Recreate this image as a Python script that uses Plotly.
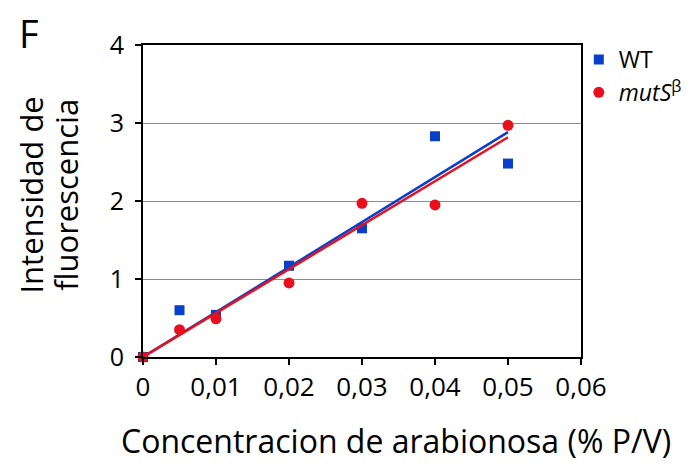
import numpy as np
import plotly.graph_objects as go

# Arabinose concentration (% w/v)
conc = [0, 0.005, 0.01, 0.02, 0.03, 0.04, 0.05]
# Fluorescence intensity
wt = [0, 0.60, 0.54, 1.17, 1.65, 2.83, 2.48]
muts = [0, 0.35, 0.49, 0.95, 1.97, 1.95, 2.97]

x_ticks = [0, 0.01, 0.02, 0.03, 0.04, 0.05, 0.06]
x_labels = ["0", "0,01", "0,02", "0,03", "0,04", "0,05", "0,06"]
y_ticks = [0, 1, 2, 3, 4]

BLUE = "#0a3fcc"
RED = "#e8101c"
FONT = "Open Sans"

W, H = 699, 466
ML, MR, MT, MB = 143, 108, 45, 109
PW, PH = W - ML - MR, H - MT - MB


def px_x(p):
    return (p - ML) / PW


def px_y(p):
    return 1 - (p - MT) / PH


def fit_origin(x, y):
    x = np.asarray(x, float)
    y = np.asarray(y, float)
    return float((x * y).sum() / (x * x).sum())


xs_fit = np.array([0, max(conc)])
k_wt = fit_origin(conc, wt)
k_mu = fit_origin(conc, muts)

fig = go.Figure()
fig.add_trace(go.Scatter(x=conc, y=wt, mode="markers", name="WT",
                         marker=dict(symbol="square", size=10, color=BLUE),
                         cliponaxis=False))
fig.add_trace(go.Scatter(x=xs_fit, y=k_wt * xs_fit, mode="lines", showlegend=False,
                         line=dict(color=BLUE, width=2.5)))
fig.add_trace(go.Scatter(x=xs_fit, y=k_mu * xs_fit, mode="lines", showlegend=False,
                         line=dict(color=RED, width=2.5)))
fig.add_trace(go.Scatter(x=conc, y=muts, mode="markers", name="<i>mutS</i><sup>β</sup>",
                         marker=dict(symbol="circle", size=11, color=RED),
                         cliponaxis=False))

fig.update_layout(
    width=W, height=H,
    margin=dict(l=ML, r=MR, t=MT, b=MB),
    paper_bgcolor="white", plot_bgcolor="white",
    font=dict(family=FONT, color="black", size=22),
    legend=dict(x=0.995, y=px_y(38), xanchor="left", yanchor="top",
                font=dict(size=23), itemwidth=30, tracegroupgap=0,
                bgcolor="rgba(0,0,0,0)"),
    showlegend=True,
)
fig.update_xaxes(range=[0, 0.06], tickvals=x_ticks, ticktext=x_labels,
                 showline=True, linecolor="black", linewidth=2, mirror=True,
                 ticks="outside", ticklen=6, tickwidth=1.5, tickcolor="black",
                 showgrid=False, zeroline=False,
                 tickfont=dict(size=26))
fig.update_yaxes(range=[0, 4], tickvals=y_ticks,
                 showline=True, linecolor="black", linewidth=2, mirror=True,
                 ticks="outside", ticklen=6, tickwidth=1.5, tickcolor="black",
                 showgrid=True, gridcolor="#8c8c8c", gridwidth=1.2,
                 zeroline=False, tickfont=dict(size=25), ticklabelstandoff=6)

# Axis titles
fig.add_annotation(text="Concentracion de arabionosa (% P/V)", xref="paper", yref="paper",
                   x=px_x(402), y=px_y(440), xanchor="center", yanchor="middle",
                   showarrow=False, font=dict(size=32, family=FONT))
for line, cx in (("Intensidad de", 28), ("fluorescencia", 64)):
    fig.add_annotation(text=line, xref="paper", yref="paper",
                       x=px_x(cx), y=px_y(195), xanchor="center", yanchor="middle",
                       textangle=-90, showarrow=False,
                       font=dict(size=31, family=FONT))

# Panel letter
fig.add_annotation(text="F", xref="paper", yref="paper", x=px_x(14), y=px_y(5),
                   xanchor="left", yanchor="top", showarrow=False,
                   font=dict(size=38, family=FONT))

fig.write_html("out.html")
